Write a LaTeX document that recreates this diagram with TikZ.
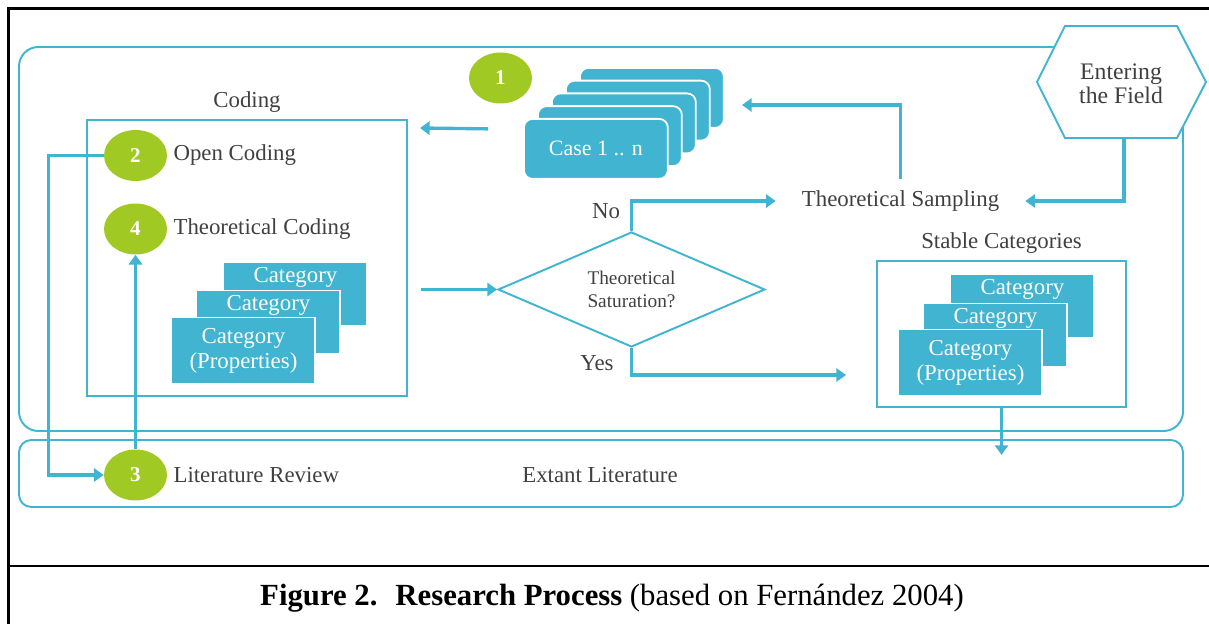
\documentclass[tikz,border=0pt]{standalone}
\usepackage{fontspec}
\setmainfont{Liberation Serif}
\usepackage{xcolor}
\usepackage{tikz}
\usetikzlibrary{shapes.geometric,arrows.meta,positioning,calc}
\definecolor{gtcyan}{RGB}{64,180,208}
\definecolor{gtgreen}{RGB}{161,201,36}
\definecolor{gttext}{RGB}{64,64,64}

\begin{document}
\begin{tikzpicture}[
    x=0.02cm, y=-0.02cm,
    node distance=0pt,
    frame/.style={draw=gtcyan, line width=1.1pt},
    flow/.style={draw=gtcyan, line width=1.9pt, -{Triangle[length=5.5pt, width=7.5pt]}},
    lbl/.style={text=gttext, font=\fontsize{13}{15}\selectfont},
    num/.style={ellipse, fill=gtgreen, minimum width=1.26cm, minimum height=1.02cm, inner sep=0pt, text=white, font=\bfseries\fontsize{12}{14}\selectfont},
    casebox/.style={fill=gtcyan, draw=white, line width=1pt, rounded corners=5pt, minimum width=2.88cm, minimum height=1.2cm, anchor=north west, text=white, font=\fontsize{12.5}{15}\selectfont},
    catbox/.style={fill=gtcyan, draw=white, line width=0.8pt, minimum width=2.87cm, minimum height=1.27cm, anchor=north west, inner sep=1pt, align=center, text=white, font=\fontsize{13}{14}\selectfont},
    cattext/.style={anchor=north, inner sep=2.8pt, text=white, font=\fontsize{13}{15}\selectfont},
    cattop/.style={label={[cattext]north:Category}}
]
\useasboundingbox (0,0) rectangle (1209,624);

% frame and caption
\draw[line width=1.7pt] (1209,9) -- (8.5,9) -- (8.5,624);
\draw[line width=1.7pt] (8.5,566) -- (1209,566);
\node (caption) at (612,598) {\fontsize{17.5}{20}\selectfont\textbf{Figure 2.~ Research Process} (based on Fernández 2004)};

% panels
\draw[frame, rounded corners=11pt] (19,47) rectangle (1183,431);
\draw[frame, rounded corners=7pt] (19,440) rectangle (1183,507);
\node[lbl] (extant) at (600,475) {Extant Literature};

% entering the field
\draw[frame, fill=white] (1037,82) -- (1065,26) -- (1177,26) -- (1206,82) -- (1177,138) -- (1065,138) -- cycle;
\node[lbl, align=center, font=\fontsize{13.5}{13.6}\selectfont] (field) at (1121,84) {Entering\\the Field};
\coordinate (fieldout) at (1124,138);

% coding
\node[frame, minimum width=6.4cm, minimum height=5.52cm] (coding) at (247,258) {};
\node[lbl, above=0pt of coding] (codinglbl) {Coding};
\node[num] (n2) at (135.5,155.5) {2};
\node[num] (n4) at (135.5,229) {4};
\node[num] (n3) at (135.5,475) {3};
\node[num] (n1) at (500.5,78) {1};
\node[lbl, right=0pt of n2] (open) {Open Coding};
\node[lbl, right=0pt of n4] (theo) {Theoretical Coding};
\node[lbl, right=0pt of n3] (lit) {Literature Review};

\node[catbox, cattop] (lcat3) at (223,262) {};
\node[catbox, cattop] (lcat2) at (196,290) {};
\node[catbox, minimum height=1.32cm] (lcat1) at (171,317) {Category\\(Properties)};

% stable categories
\node[frame, minimum width=4.98cm, minimum height=2.92cm] (stable) at (1001.5,334) {};
\node[lbl, above=0pt of stable] (stablelbl) {Stable Categories};
\node[catbox, cattop] (rcat3) at (950,274) {};
\node[catbox, cattop] (rcat2) at (923,303) {};
\node[catbox, minimum height=1.32cm] (rcat1) at (898,329) {Category\\(Properties)};

% cases
\foreach \k in {4,3,2,1}
  \node[casebox] (case\k) at ({523+14*\k},{118-12.75*\k}) {};
\node[casebox] (case0) at (523,118) {Case 1 .. n};

% decision
\node[diamond, frame, aspect=2.3, inner sep=0pt, minimum width=5.34cm, minimum height=2.3cm, align=center, text=gttext, font=\fontsize{11}{13}\selectfont] (sat) at (631.5,289.5) {Theoretical\\Saturation?};
\node[lbl] (no) at (606,211) {No};
\node[lbl] (yes) at (597,363) {Yes};
\node[lbl] (samp) at (900.5,201) {Theoretical Sampling};

% connectors
\coordinate (codingin) at (420,128);
\coordinate (casesin) at (742,105);
\coordinate (stablein) at (846,375);
\draw[flow] ([shift={(-35,-20)}]case0.west) -- (codingin);
\draw[flow] ([xshift=0.26cm]coding.east |- sat.west) -- (sat.west);
\draw[flow] (sat.north) |- ([xshift=-0.4cm]samp.west);
\draw[flow] (sat.south) |- (stablein);
\draw[flow] ([yshift=0.1cm]samp.north) |- (casesin);
\draw[flow] (fieldout) |- ([xshift=0.4cm]samp.east);
\draw[flow] (stable.south) -- ++(0,47);
\draw[flow] (n3.north) -- (n4.south);
\draw[flow] (n2.west) -- ++(-55,0) |- (n3.west);
\end{tikzpicture}
\end{document}
